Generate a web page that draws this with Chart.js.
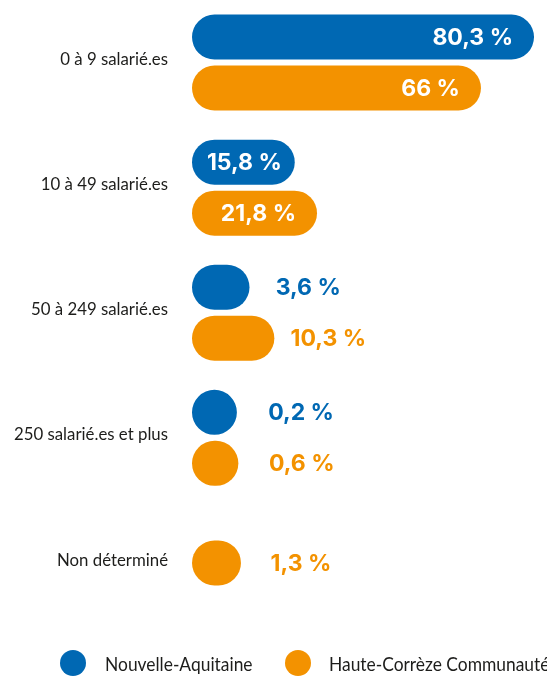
<!DOCTYPE html>
<html><head><meta charset="utf-8">
<script src="https://cdn.jsdelivr.net/npm/chart.js@4.4.1/dist/chart.umd.min.js"></script>
<style>html,body{margin:0;padding:0;background:#fff;} #wrap{width:547px;height:677px;position:relative;}</style>
</head><body><div id="wrap"><canvas id="c"></canvas></div>
<script>
const categories = ["0 à 9 salarié.es", "10 à 49 salarié.es", "50 à 249 salarié.es", "250 salarié.es et plus", "Non déterminé"];
const nouvelleAquitaine = [80.3, 15.8, 3.6, 0.2, null];
const hauteCorreze = [66, 21.8, 10.3, 0.6, 1.3];
const seriesNames = ["Nouvelle-Aquitaine", "Haute-Corrèze Communauté"];

const BLUE = '#0068b3', ORANGE = '#f39200', TEXT = '#1d1d1b';
const AXIS_MIN = -11.9, AXIS_MAX = 83.8;
const LABEL_FONT = 'Lato, "Open Sans", sans-serif';
const VALUE_FONT = 'bold 23px Inter, "Open Sans", sans-serif';

function fmt(v) { return String(v).replace('.', ',') + ' %'; }

const valueLabels = {
  id: 'valueLabels',
  afterDatasetsDraw(chart) {
    const ctx = chart.ctx;
    ctx.save();
    ctx.font = VALUE_FONT;
    ctx.textBaseline = 'middle';
    chart.data.datasets.forEach((ds, di) => {
      const meta = chart.getDatasetMeta(di);
      meta.data.forEach((el, i) => {
        const v = ds.data[i];
        if (v === null || v === undefined) return;
        const txt = fmt(v);
        const tw = ctx.measureText(txt).width;
        const end = el.x, base = el.base, w = end - base;
        const y = el.y + 1;
        if (w >= tw + 20) {
          ctx.fillStyle = '#ffffff';
          if (w >= tw + 44) { ctx.textAlign = 'right'; ctx.fillText(txt, end - 21, y); }
          else { ctx.textAlign = 'center'; ctx.fillText(txt, (end + base) / 2 + 1, y); }
        } else {
          ctx.fillStyle = ds.backgroundColor;
          ctx.textAlign = 'left';
          ctx.fillText(txt, 0.6 * end + 126, y);
        }
      });
    });
    ctx.restore();
  }
};

const categoryLabels = {
  id: 'categoryLabels',
  afterDraw(chart) {
    const ctx = chart.ctx, ys = chart.scales.y;
    ctx.save();
    ctx.font = '17.5px ' + LABEL_FONT;
    ctx.fillStyle = TEXT;
    ctx.textAlign = 'right';
    ctx.textBaseline = 'middle';
    categories.forEach((c, i) => {
      const y = ys.getPixelForValue(i) - 3;
      ctx.save();
      ctx.translate(168, y);
      ctx.scale(0.96, 1);
      ctx.fillText(c, 0, 0);
      ctx.restore();
    });
    ctx.restore();
  }
};

const customLegend = {
  id: 'customLegend',
  afterDraw(chart) {
    const ctx = chart.ctx;
    const items = [{x: 73, tx: 105}, {x: 298, tx: 329}];
    ctx.save();
    ctx.font = '20px ' + LABEL_FONT;
    ctx.textBaseline = 'middle';
    ctx.textAlign = 'left';
    chart.data.datasets.forEach((ds, i) => {
      const it = items[i];
      ctx.fillStyle = ds.backgroundColor;
      ctx.beginPath(); ctx.arc(it.x, 663, 13, 0, Math.PI * 2); ctx.fill();
      ctx.fillStyle = TEXT;
      ctx.save();
      ctx.translate(it.tx, 665);
      ctx.scale(0.87, 1);
      ctx.fillText(ds.label, 0, 0);
      ctx.restore();
    });
    ctx.restore();
  }
};

new Chart(document.getElementById('c'), {
  type: 'bar',
  data: {
    labels: categories,
    datasets: [
      { label: seriesNames[0], data: nouvelleAquitaine, backgroundColor: BLUE },
      { label: seriesNames[1], data: hauteCorreze, backgroundColor: ORANGE }
    ]
  },
  options: {
    indexAxis: 'y',
    responsive: true,
    maintainAspectRatio: false,
    animation: false,
    devicePixelRatio: 1,
    layout: { padding: { left: 192, right: 0, top: 0, bottom: 51.5 } },
    datasets: {
      bar: {
        base: AXIS_MIN,
        borderRadius: 30,
        borderSkipped: false,
        categoryPercentage: 0.8153,
        barPercentage: 1,
        maxBarThickness: 45,
        skipNull: true
      }
    },
    scales: {
      x: { type: 'linear', min: AXIS_MIN, max: AXIS_MAX, display: false },
      y: { type: 'category', display: false }
    },
    plugins: { legend: { display: false }, tooltip: { enabled: false } }
  },
  plugins: [valueLabels, categoryLabels, customLegend]
});
</script>
</body></html>
